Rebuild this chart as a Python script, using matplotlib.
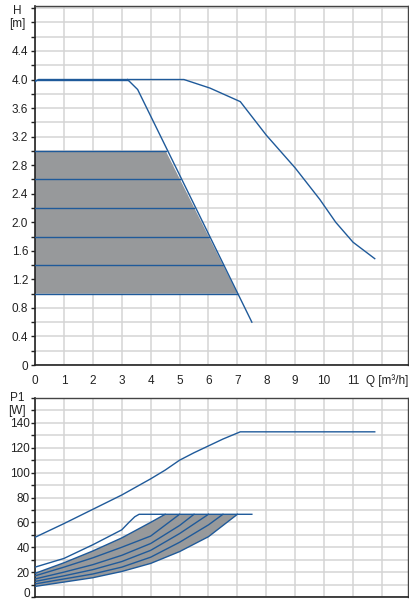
import matplotlib
matplotlib.use("Agg")
import matplotlib.pyplot as plt
import matplotlib.transforms as mtrans
import numpy as np

plt.rcParams['font.family'] = ['Liberation Sans', 'DejaVu Sans']

# ---- Top chart (H vs Q) ----
max_q = [0.0, 0.12, 5.15, 6.05, 7.1, 8.0, 9.0, 9.85, 10.4, 11.0, 11.75]
max_h = [3.97, 4.0, 4.0, 3.88, 3.69, 3.22, 2.76, 2.32, 2.0, 1.72, 1.49]

min_q = [3.2, 3.55, 7.5]
min_h = [4.0, 3.86, 0.6]

area_h = [3.0, 2.6, 2.2, 1.8, 1.4, 1.0]
area_q_right = [4.52, 5.02, 5.51, 6.01, 6.5, 7.0]

x_ticks = list(range(0, 12))
h_ticks = [0, 0.4, 0.8, 1.2, 1.6, 2.0, 2.4, 2.8, 3.2, 3.6, 4.0, 4.4]

# ---- Bottom chart (P1 vs Q) ----
p_max_q = [0, 1, 2, 3, 4, 4.5, 5, 5.5, 6, 6.5, 7.1, 11.75]
p_max_p = [48, 59, 70.5, 82, 95, 102, 110, 116, 121.5, 127, 132.8, 132.8]

p_mid_q = [0, 1, 2, 3, 3.25, 3.45, 3.6, 7.5]
p_mid_p = [24, 31, 42, 54, 60, 64.5, 66.5, 66.5]

p_curves_q = [
    [0, 1, 2, 3, 4, 4.5],
    [0, 1, 2, 3, 4, 5],
    [0, 1, 2, 3, 4, 5, 5.5],
    [0, 1, 2, 3, 4, 5, 6],
    [0, 1, 2, 3, 4, 5, 6, 6.5],
    [0, 1, 2, 3, 4, 5, 6, 7],
]
p_curves_p = [
    [19, 27.5, 37, 47.5, 60, 66.5],
    [17, 24, 31.5, 40, 49, 66.5],
    [14.5, 20, 26, 33.5, 43, 57.5, 66.5],
    [12.5, 17, 22, 28.5, 37.5, 51, 66.5],
    [10.5, 14.5, 18.5, 24, 32, 44, 58, 66.5],
    [8.5, 12, 15.5, 20.5, 27, 36.5, 48.5, 66.5],
]
p_ticks = [0, 20, 40, 60, 80, 100, 120, 140]

LINE = '#1f5a9a'
FILL = '#97999b'
GRID = '#d4d4d4'
TXT = '#222222'
FS = 8.5

fig = plt.figure(figsize=(4.10, 6.02), dpi=100)
W, H = 410, 602
def axrect(l, t, r, b):
    return [l / W, 1 - b / H, (r - l) / W, (b - t) / H]

def ftext(x, y, s, **kw):
    fig.text(x / W, 1 - y / H, s, fontsize=FS, color=TXT, **kw)

ax1 = fig.add_axes(axrect(35, 6, 408, 365))
ax2 = fig.add_axes(axrect(35, 398, 408, 597))

def style(ax, ylim, yminor):
    ax.set_xlim(0, 12.9)
    ax.set_ylim(*ylim)
    ax.set_xticks(range(0, 13), minor=False)
    ax.set_yticks(np.arange(ylim[0], ylim[1] + 1e-9, yminor), minor=True)
    ax.grid(True, which='both', color=GRID, lw=1.1, zorder=0)
    for s in ['top', 'right']:
        ax.spines[s].set_color('#444444')
        ax.spines[s].set_linewidth(1.0)
    for s in ['left', 'bottom']:
        ax.spines[s].set_color('#222222')
        ax.spines[s].set_linewidth(1.2)
    ax.tick_params(axis='x', length=0, labelbottom=False)
    ax.tick_params(axis='y', which='both', length=3, width=1, color='#222222',
                   labelsize=FS, labelcolor=TXT, pad=2)
    ax.set_axisbelow(True)

# Top chart
style(ax1, (0, 5.03), 0.2)
ax1.set_yticks(h_ticks)
ax1.set_yticklabels([('%g' % v) if v == 0 else ('%.1f' % v) for v in h_ticks])
for x in x_ticks:
    ax1.text(x, -0.225, str(x), ha='center', va='center', fontsize=FS, color=TXT)
ax1.text(11.45, -0.225, 'Q [m³/h]', ha='left', va='center', fontsize=FS, color=TXT, clip_on=False)
ftext(17, 11.5, 'H', ha='center', va='center')
ftext(17, 24.5, '[m]', ha='center', va='center')

poly_q = [0, area_q_right[0], area_q_right[-1], 0]
poly_h = [area_h[0], area_h[0], area_h[-1], area_h[-1]]
ax1.fill(poly_q, poly_h, color=FILL, zorder=1, lw=0)
for h, qr in zip(area_h, area_q_right):
    ax1.plot([0, qr], [h, h], color=LINE, lw=1.0, zorder=3)
ax1.plot([0, 3.2], [4.0, 4.0], color=LINE, lw=1.0, zorder=3)
ax1.plot(max_q, max_h, color=LINE, lw=1.0, zorder=3)
ax1.plot(min_q, min_h, color=LINE, lw=1.0, zorder=3)

# Bottom chart
style(ax2, (0, 160), 10)
ax2.set_yticks(p_ticks)
ax2.tick_params(axis='y', labelleft=False)
ytr = ax2.get_yaxis_transform()
for v in p_ticks:
    tr = ytr
    va = 'center_baseline'
    if v == 0:
        tr = ytr + mtrans.ScaledTranslation(0, 2.0 / 72, fig.dpi_scale_trans)
        va = 'center'
    ax2.text(-0.0135, v, str(v), transform=tr, ha='right', va=va,
             fontsize=FS, color=TXT, clip_on=False)
ftext(17, 398, 'P1', ha='center', va='center')
ftext(17, 411, '[W]', ha='center', va='center')

top_q, top_p = p_curves_q[0], p_curves_p[0]
bot_q, bot_p = p_curves_q[-1], p_curves_p[-1]
fq = list(top_q) + list(bot_q[::-1])
fp = list(top_p) + list(bot_p[::-1])
ax2.fill(fq, fp, color=FILL, lw=0, zorder=1)
for q, p in zip(p_curves_q, p_curves_p):
    ax2.plot(q, p, color=LINE, lw=1.0, zorder=3)
ax2.plot(p_mid_q, p_mid_p, color=LINE, lw=1.0, zorder=3)
ax2.plot(p_max_q, p_max_p, color=LINE, lw=1.0, zorder=3)

fig.savefig('out.png', dpi=100)
